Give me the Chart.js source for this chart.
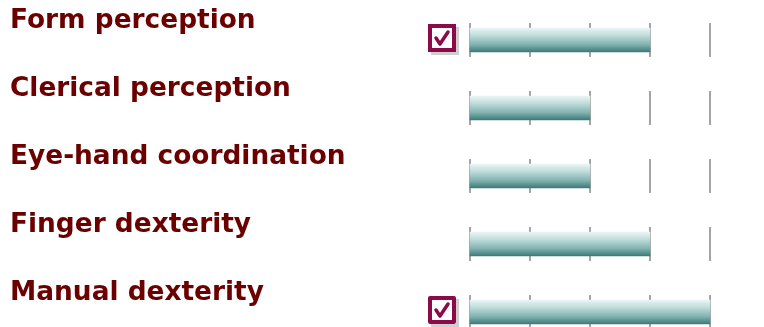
<!DOCTYPE html>
<html>
<head>
<meta charset="utf-8">
<script src="https://cdn.jsdelivr.net/npm/chart.js@4/dist/chart.umd.min.js"></script>
<style>
  html, body { margin: 0; padding: 0; background: #ffffff; }
  #wrap { width: 764px; height: 327px; }
</style>
</head>
<body>
<div id="wrap"><canvas id="aptChart"></canvas></div>
<script>
// --- data ---
const aptitudes = ['Form perception', 'Clerical perception', 'Eye-hand coordination', 'Finger dexterity', 'Manual dexterity'];
const levels = [3, 2, 2, 3, 4];
const checked = [true, false, false, false, true];
const scaleTicks = [0, 1, 2, 3, 4];

const labelColor = '#6b0000';
const checkColor = '#8c0a4a';

// short tick marks behind each bar row
const rowTicks = {
    id: 'rowTicks',
    beforeDatasetsDraw(chart) {
        const ctx = chart.ctx;
        const xs = chart.scales.x, ys = chart.scales.y;
        ctx.save();
        ctx.strokeStyle = '#a4a4a4';
        ctx.lineWidth = 2;
        aptitudes.forEach((a, i) => {
            const cy = ys.getPixelForValue(i);
            scaleTicks.forEach(t => {
                const x = Math.round(xs.getPixelForValue(t));
                ctx.beginPath();
                ctx.moveTo(x, cy - 17);
                ctx.lineTo(x, cy + 17);
                ctx.stroke();
            });
        });
        ctx.restore();
    }
};

// labels above each row + check boxes
const rowLabels = {
    id: 'rowLabels',
    afterDatasetsDraw(chart) {
        const ctx = chart.ctx;
        const xs = chart.scales.x, ys = chart.scales.y;
        ctx.save();
        ctx.font = 'bold 26.4px "DejaVu Sans", Verdana, sans-serif';
        ctx.textAlign = 'left';
        ctx.textBaseline = 'middle';
        aptitudes.forEach((a, i) => {
            const cy = ys.getPixelForValue(i);
            ctx.fillStyle = labelColor;
            ctx.fillText(a, 10, cy - 19);
            if (checked[i]) {
                const bx = xs.left - 42, by = cy - 16, s = 28;
                // shadow
                ctx.fillStyle = '#cfcfcf';
                ctx.fillRect(bx + 3, by + 3, s, s);
                ctx.fillStyle = '#ffffff';
                ctx.fillRect(bx, by, s, s);
                ctx.strokeStyle = checkColor;
                ctx.lineWidth = 4;
                ctx.strokeRect(bx + 2, by + 2, s - 4, s - 4);
                // tick
                ctx.lineWidth = 3.5;
                ctx.lineCap = 'round';
                ctx.lineJoin = 'round';
                ctx.beginPath();
                ctx.moveTo(bx + 8, by + 14);
                ctx.lineTo(bx + 12, by + 20);
                ctx.lineTo(bx + 20, by + 8);
                ctx.stroke();
            }
        });
        ctx.restore();
    }
};

new Chart(document.getElementById('aptChart'), {
    type: 'bar',
    data: {
        labels: aptitudes,
        datasets: [{
            data: levels,
            barThickness: 24,
            clip: false,
            borderWidth: 0,
            backgroundColor: (c) => {
                const el = c.chart.ctx;
                const area = c.chart.chartArea;
                if (!area) return '#5a9a98';
                const cy = c.chart.scales.y.getPixelForValue(c.dataIndex);
                const g = el.createLinearGradient(0, cy - 12, 0, cy + 12);
                g.addColorStop(0, '#eaf5f5');
                g.addColorStop(0.3, '#c0dddc');
                g.addColorStop(0.7, '#7fb1af');
                g.addColorStop(1, '#3b7a78');
                return g;
            }
        }]
    },
    options: {
        indexAxis: 'y',
        responsive: true,
        maintainAspectRatio: false,
        animation: false,
        layout: { padding: { left: 470, right: 54, top: 40, bottom: 15 } },
        plugins: { legend: { display: false }, tooltip: { enabled: false } },
        scales: {
            x: { display: false, min: 0, max: 4 },
            y: { display: false, offset: false }
        }
    },
    plugins: [rowTicks, rowLabels]
});
</script>
</body>
</html>
